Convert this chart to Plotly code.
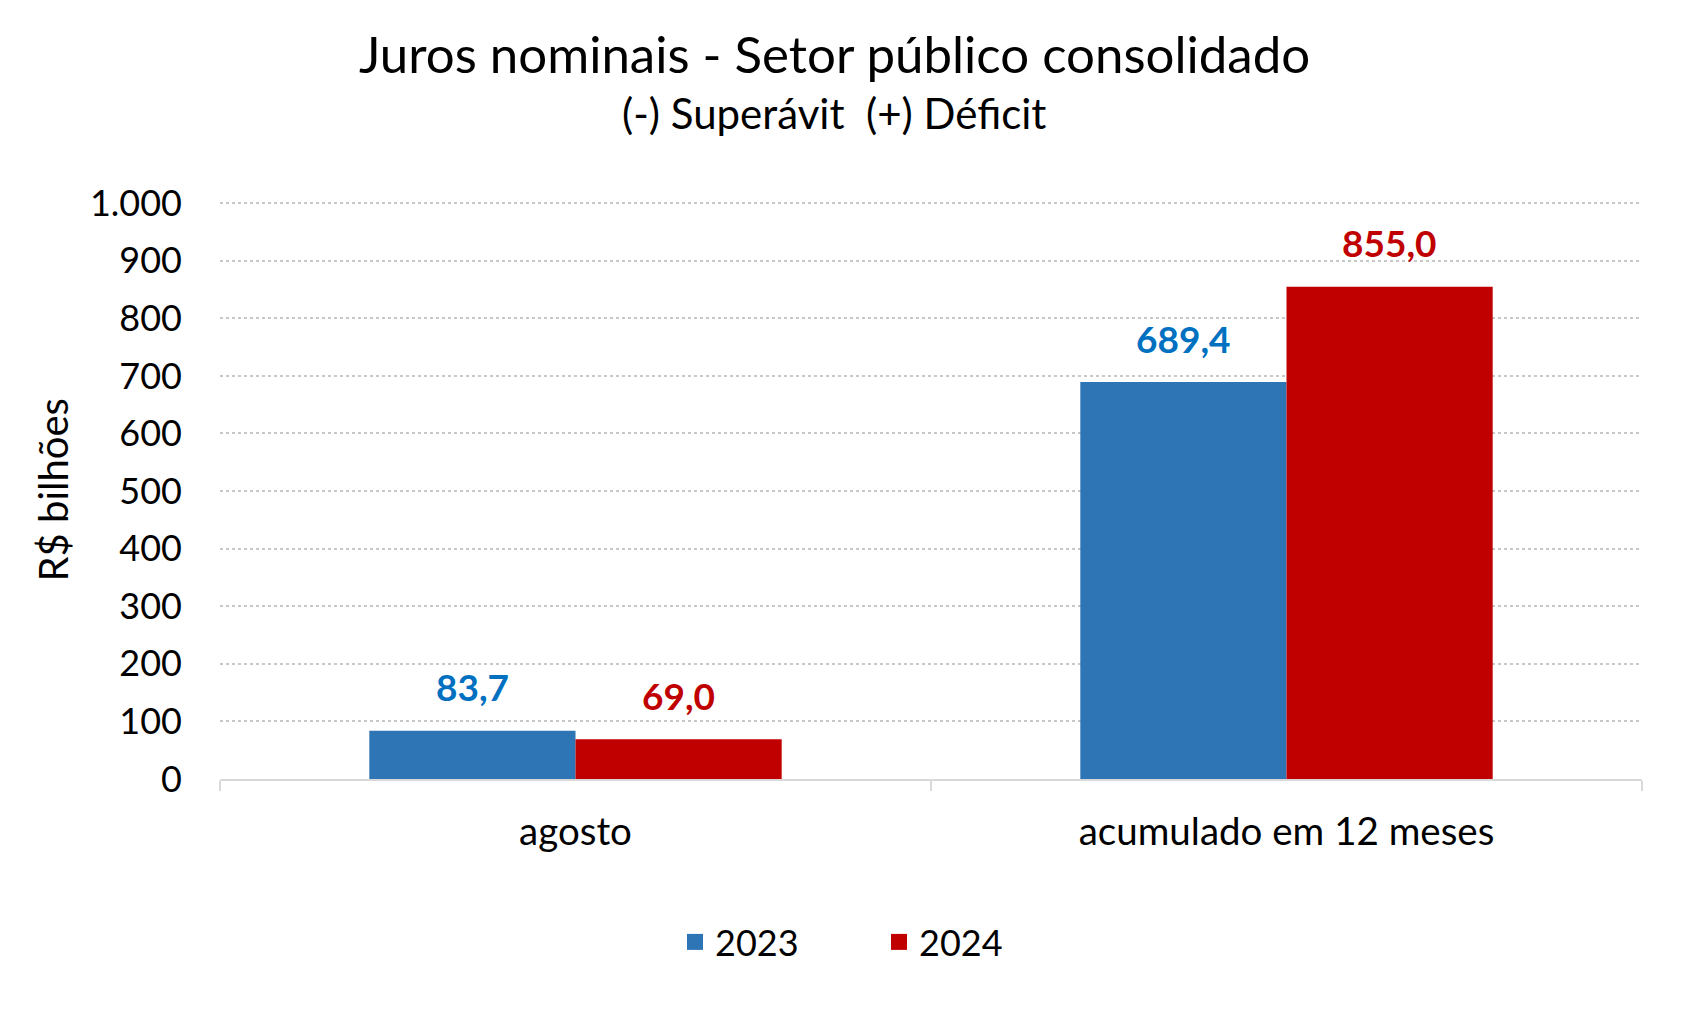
import plotly.graph_objects as go

categories = ["agosto", "acumulado em 12 meses"]
series_names = ["2023", "2024"]
values_2023 = [83.7, 689.4]
values_2024 = [69.0, 855.0]
bar_colors = ["#2E75B6", "#C00000"]
label_colors = ["#0070C0", "#C00000"]
y_ticks = [0, 100, 200, 300, 400, 500, 600, 700, 800, 900, 1000]

FONT = "Lato"
W, H = 1694, 1014
L, R, T, B = 220, 52, 202, 235

fig = go.Figure()
for name, vals, col in zip(series_names, [values_2023, values_2024], bar_colors):
    fig.add_trace(go.Bar(x=categories, y=vals, name=name, marker_color=col,
                         marker_line_width=0, showlegend=False))
# legend entries with square swatches
for name, col in zip(series_names, bar_colors):
    fig.add_trace(go.Scatter(x=[None], y=[None], mode="markers", name=name,
                             marker=dict(symbol="square", size=22, color=col)))

bargap = 0.42
plot_w = W - L - R
plot_h = H - T - B
cat_w = plot_w / len(categories)
bar_w = cat_w * (1 - bargap) / 2
annotations = []
for i, (vals, col) in enumerate(zip([values_2023, values_2024], label_colors)):
    shift = (i - 0.5) * bar_w
    for c, v in zip(categories, vals):
        annotations.append(dict(x=c, y=v, xref="x", yref="y", text=f"{v:.1f}".replace(".", ","),
                                showarrow=False, xshift=shift, yshift=44, yanchor="middle",
                                font=dict(family=FONT, size=37, color=col, weight="bold")))

title_x = (834 - L) / plot_w
annotations.append(dict(x=title_x, y=1 + (T - 54) / plot_h, xref="paper", yref="paper",
                        yanchor="middle",
                        text="Juros nominais - Setor público consolidado", showarrow=False,
                        font=dict(family=FONT, size=51, color="black")))
annotations.append(dict(x=title_x, y=1 + (T - 113) / plot_h, xref="paper", yref="paper",
                        yanchor="middle",
                        text="(-) Superávit  (+) Déficit", showarrow=False,
                        font=dict(family=FONT, size=42, color="black")))

annotations.append(dict(x=(52 - L) / plot_w, y=0.5, xref="paper", yref="paper",
                        text="R$ bilhões", showarrow=False, textangle=-90,
                        xanchor="center", yanchor="middle",
                        font=dict(family=FONT, size=40, color="black")))

fig.update_layout(
    width=W, height=H,
    margin=dict(l=L, r=R, t=T, b=B),
    paper_bgcolor="white", plot_bgcolor="white",
    barmode="group", bargap=bargap, bargroupgap=0,
    separators=",.",
    font=dict(family=FONT, size=36, color="black"),
    showlegend=True,
    legend=dict(orientation="h", x=(879 - L) / plot_w, xanchor="center",
                y=(779 - 942) / plot_h, yanchor="middle",
                font=dict(family=FONT, size=36, color="black"),
                entrywidth=159, entrywidthmode="pixels", itemwidth=30),
    annotations=annotations,
)
fig.update_yaxes(range=[0, 1002], tickvals=y_ticks, tickformat=",d",
                 showgrid=True, gridcolor="#C8C8C8", griddash="dot", gridwidth=1.5,
                 zeroline=False, showline=False, ticks="", ticklabelstandoff=37,
                 tickfont=dict(family=FONT, size=36, color="black"))
fig.update_xaxes(showline=True, linecolor="#D9D9D9", linewidth=2,
                 ticks="outside", tickson="boundaries", ticklen=10, tickcolor="#D9D9D9",
                 tickwidth=2, ticklabelstandoff=18,
                 tickfont=dict(family=FONT, size=38.5, color="black"))

fig.write_html("out.html")
